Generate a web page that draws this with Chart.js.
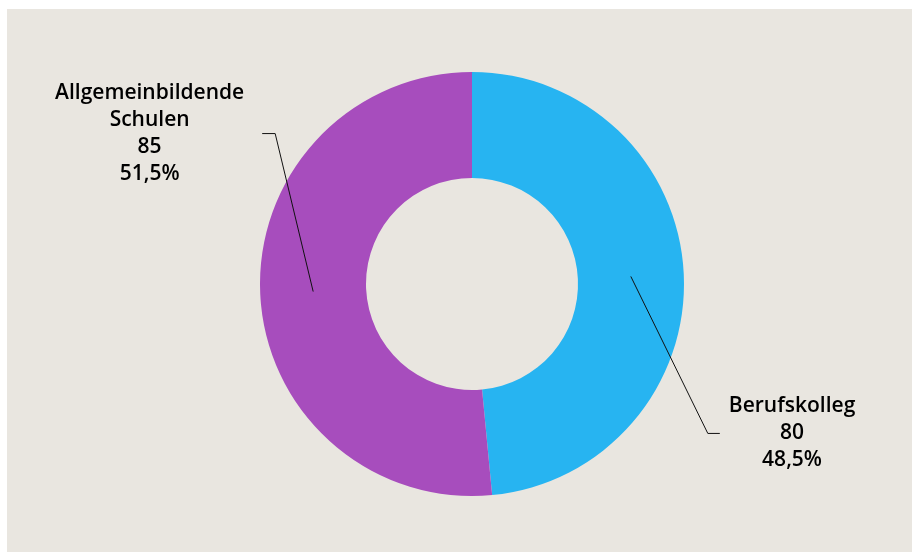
<!DOCTYPE html>
<html>
<head>
<meta charset="utf-8">
<script src="https://cdn.jsdelivr.net/npm/chart.js@4"></script>
<style>
  html, body { margin: 0; padding: 0; background: #ffffff; }
  #panel {
    position: absolute;
    left: 7px;
    top: 9px;
    width: 905px;
    height: 543px;
    background: #e9e6e0;
  }
  #panel canvas { display: block; }
</style>
</head>
<body>
<div id="panel"><canvas id="chart" width="905" height="543"></canvas></div>
<script>
const categories = ["Berufskolleg", "Allgemeinbildende Schulen"];
const labelLines = [["Berufskolleg"], ["Allgemeinbildende", "Schulen"]];
const values = [80, 85];
const colors = ["#27b4f1", "#a74dbd"];

const total = values.reduce((a, b) => a + b, 0);
const percentText = values.map((v) => (v / total * 100).toFixed(1).replace(".", ",") + "%");

// leader line + label per slice: offset of the elbow from the slice centre, short tail, gap to text
const callouts = [
  { dx: 77, dy: 157, tail: 12, gap: 9 },
  { dx: -38, dy: -158, tail: -13, gap: 18 },
];

const calloutPlugin = {
  id: "callouts",
  afterDatasetsDraw(chart) {
    const ctx = chart.ctx;
    const meta = chart.getDatasetMeta(0);
    ctx.save();
    ctx.font = "600 21px 'Open Sans', sans-serif";
    ctx.fillStyle = "#000000";
    ctx.strokeStyle = "#111111";
    ctx.lineWidth = 1;
    ctx.textAlign = "center";
    ctx.textBaseline = "middle";

    meta.data.forEach((arc, i) => {
      const p = arc.getProps(["x", "y", "startAngle", "endAngle", "innerRadius", "outerRadius"], true);
      const mid = (p.startAngle + p.endAngle) / 2;
      const r = (p.innerRadius + p.outerRadius) / 2;
      const sx = p.x + Math.cos(mid) * r;
      const sy = p.y + Math.sin(mid) * r;
      const c = callouts[i];
      const ex = sx + c.dx;
      const ey = sy + c.dy;
      const tx = ex + c.tail;

      ctx.beginPath();
      ctx.moveTo(sx, sy);
      ctx.lineTo(ex, ey);
      ctx.lineTo(tx, ey);
      ctx.stroke();

      const lines = labelLines[i].concat([String(values[i]), percentText[i]]);
      const w = Math.max(...lines.map((l) => ctx.measureText(l).width));
      const cx = c.tail > 0 ? tx + c.gap + w / 2 : tx - c.gap - w / 2;
      const lh = 27;
      const top = ey - (lines.length - 1) * lh / 2;
      lines.forEach((l, k) => ctx.fillText(l, cx, top + k * lh));
    });
    ctx.restore();
  },
};

new Chart(document.getElementById("chart"), {
  type: "doughnut",
  data: {
    labels: categories,
    datasets: [
      {
        data: values,
        backgroundColor: colors,
        borderWidth: 0,
      },
    ],
  },
  options: {
    responsive: false,
    animation: false,
    cutout: "50%",
    layout: {
      padding: { left: 253, right: 228, top: 63, bottom: 56 },
    },
    plugins: {
      legend: { display: false },
      tooltip: { enabled: false },
    },
  },
  plugins: [calloutPlugin],
});
</script>
</body>
</html>
